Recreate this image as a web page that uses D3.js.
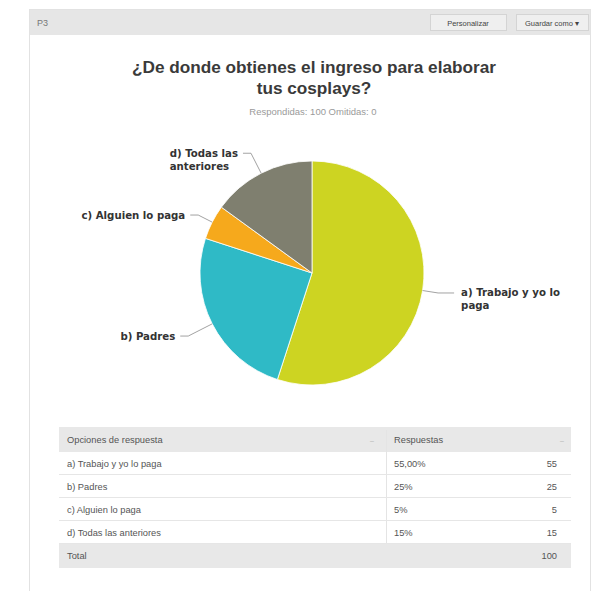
<!DOCTYPE html>
<html>
<head>
<meta charset="utf-8">
<script src="https://cdn.jsdelivr.net/npm/d3@7/dist/d3.min.js"></script>
<style>
  html, body { margin: 0; padding: 0; background: #fff; }
  svg { display: block; font-family: "Liberation Sans", Arial, sans-serif; }
</style>
</head>
<body>
<svg id="chart" width="605" height="591"></svg>
<script>
// Survey question P3: answer options, responses and their table labels
const categories = [
  "a) Trabajo y yo lo paga",
  "b) Padres",
  "c) Alguien lo paga",
  "d) Todas las anteriores"
];
const sliceLabels = [
  ["a) Trabajo y yo lo", "paga"],
  ["b) Padres"],
  ["c) Alguien lo paga"],
  ["d) Todas las", "anteriores"]
];
const values = [55, 25, 5, 15];
const percentLabels = ["55,00%", "25%", "5%", "15%"];
const countLabels = ["55", "25", "5", "15"];
const totalLabel = "100";
const colors = ["#cdd422", "#2fbac6", "#f6a91c", "#7f7f6f"];

const svg = d3.select("#chart");

// panel frame
svg.append("rect").attr("x", 29.5).attr("y", 9.5).attr("width", 561).attr("height", 590)
  .attr("fill", "#fff").attr("stroke", "#e2e2e2");

// header bar with question number and buttons
svg.append("rect").attr("x", 30).attr("y", 10).attr("width", 560).attr("height", 25).attr("fill", "#e6e6e6");
svg.append("text").attr("x", 37).attr("y", 26).attr("font-size", 9).attr("fill", "#777").text("P3");
const buttons = [
  { x: 430, w: 76, label: "Personalizar" },
  { x: 516, w: 72, label: "Guardar como \u25BE" }
];
buttons.forEach(b => {
  svg.append("rect").attr("x", b.x + 0.5).attr("y", 14.5).attr("width", b.w).attr("height", 16)
    .attr("fill", "#efefef").attr("stroke", "#d4d4d4");
  svg.append("text").attr("x", b.x + b.w / 2).attr("y", 25.5).attr("text-anchor", "middle")
    .attr("font-size", 7.5).attr("fill", "#444").text(b.label);
});

// title and response summary
const title = svg.append("text").attr("text-anchor", "middle").attr("font-weight", "bold")
  .attr("font-size", 17.2).attr("fill", "#3a3a3a");
title.append("tspan").attr("x", 314).attr("y", 73).text("\u00BFDe donde obtienes el ingreso para elaborar");
title.append("tspan").attr("x", 314).attr("y", 94).text("tus cosplays?");
svg.append("text").attr("x", 313).attr("y", 114.5).attr("text-anchor", "middle")
  .attr("font-size", 9.5).attr("fill", "#9a9a9a").text("Respondidas: 100    Omitidas: 0");

// pie
const cx = 312, cy = 273, radius = 112;
const pie = d3.pie().sort(null).value(d => d).startAngle(0).endAngle(2 * Math.PI);
const arcs = pie(values);
const arc = d3.arc().innerRadius(0).outerRadius(radius);
const g = svg.append("g").attr("transform", `translate(${cx},${cy})`);
g.selectAll("path").data(arcs).join("path")
  .attr("d", arc)
  .attr("fill", (d, i) => colors[i])
  .attr("stroke", "#fff").attr("stroke-width", 0.8);

// data labels with connectors
const elbowFactor = [1.14, 1.24, 1.14, 1.2];
arcs.forEach((d, i) => {
  const mid = (d.startAngle + d.endAngle) / 2;
  const sx = Math.sin(mid), sy = -Math.cos(mid);
  const p0 = [sx * radius, sy * radius];
  const p1 = [sx * radius * elbowFactor[i], sy * radius * elbowFactor[i]];
  const right = sx > 0;
  const p2 = [p1[0] + (right ? 16 : -8), p1[1]];
  g.append("polyline")
    .attr("points", [p0, p1, p2].map(p => p.join(",")).join(" "))
    .attr("fill", "none").attr("stroke", "#8a8a8a").attr("stroke-width", 0.8);
  const lines = sliceLabels[i];
  const t = g.append("text").attr("font-family", "'DejaVu Sans', Verdana, sans-serif")
    .attr("font-size", 10.2).attr("font-weight", "bold").attr("fill", "#333");
  lines.forEach((ln, k) => {
    t.append("tspan").attr("x", 0).attr("dy", k === 0 ? 0 : 13).text(ln);
  });
  const firstW = t.select("tspan").node().getComputedTextLength();
  const tx = right ? p2[0] + 7 : p2[0] - 5 - firstW;
  t.attr("transform", `translate(${tx},${p2[1] + 3.5})`);
});

// results table
const tableX = 59, tableW = 512, colSplit = 386;
const headerY = 427, headerH = 25, rowH = 23;
const table = svg.append("g").attr("font-size", 9.3).attr("fill", "#555");

table.append("rect").attr("x", tableX).attr("y", headerY).attr("width", tableW).attr("height", headerH).attr("fill", "#e8e8e8");
table.append("text").attr("x", 67).attr("y", headerY + 16).text("Opciones de respuesta");
table.append("text").attr("x", 394).attr("y", headerY + 16).text("Respuestas");
[372, 562].forEach(x => {
  table.append("text").attr("x", x).attr("y", headerY + 16).attr("text-anchor", "middle")
    .attr("fill", "#b5b5b5").attr("font-size", 7).text("\u2013");
});
table.append("line").attr("x1", colSplit + 0.5).attr("x2", colSplit + 0.5)
  .attr("y1", headerY + 3).attr("y2", headerY + headerH + rowH * 4)
  .attr("stroke", "#e4e4e4");

const rowsTop = headerY + headerH;
const rowY = d3.scaleBand().domain(d3.range(categories.length))
  .range([rowsTop, rowsTop + rowH * categories.length]);
categories.forEach((c, i) => {
  const y = rowY(i);
  table.append("line").attr("x1", tableX).attr("x2", tableX + tableW)
    .attr("y1", y + rowH - 0.5).attr("y2", y + rowH - 0.5).attr("stroke", "#e6e6e6");
  table.append("text").attr("x", 67).attr("y", y + 15).text(c);
  table.append("text").attr("x", 394).attr("y", y + 15).text(percentLabels[i]);
  table.append("text").attr("x", 557).attr("y", y + 15).attr("text-anchor", "end").text(countLabels[i]);
});
const totalY = rowsTop + rowH * categories.length;
table.append("rect").attr("x", tableX).attr("y", totalY).attr("width", tableW).attr("height", 24).attr("fill", "#e8e8e8");
table.append("text").attr("x", 67).attr("y", totalY + 15).text("Total");
table.append("text").attr("x", 557).attr("y", totalY + 15).attr("text-anchor", "end").text(totalLabel);
</script>
</body>
</html>
